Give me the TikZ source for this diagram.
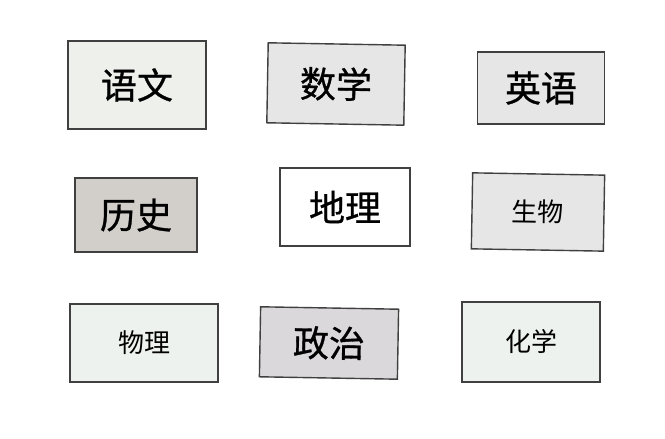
\documentclass[tikz,border=0pt]{standalone}
\usepackage{fontspec}
\newfontfamily\cjk{Noto Sans CJK SC}
\newfontfamily\cjkthick[FakeBold=0.8]{Noto Sans CJK SC}
\usepackage{tikz}
\usetikzlibrary{positioning}
\definecolor{paleA}{HTML}{EEF0EC}
\definecolor{paleB}{HTML}{E6E6E6}
\definecolor{midgray}{HTML}{D2CFCA}
\definecolor{greyC}{HTML}{DAD8DA}
\definecolor{paleD}{HTML}{EEF2EE}
\begin{document}
\begin{tikzpicture}[x=1pt,y=1pt]
\tikzset{big/.style={font=\cjkthick\fontsize{36}{36}\selectfont}}
\tikzset{small/.style={font=\cjk\fontsize{26}{26}\selectfont}}
\tikzstyle{card} =[rectangle, draw = black!75, line width=1.4pt, inner sep=0pt]

\useasboundingbox (0,0) rectangle (665,439);

\node[card,big,fill=paleA,minimum width=138,minimum height=88](yuwen) at (137,354){语文};
\node[card,big,fill=paleB,minimum width=137,minimum height=80,rotate=-1](shuxue) at (336,355){数学};
\node[card,big,fill=paleB,minimum width=127,minimum height=72](yingyu) at (541,351){英语};

\node[card,big,fill=midgray,minimum width=122,minimum height=74](lishi) at (136,224){历史};
\node[card,big,fill=white,minimum width=130,minimum height=78](dili) at (345,232){地理};
\node[card,small,fill=paleB,minimum width=132,minimum height=76,rotate=-1](shengwu) at (538,227){生物};

\node[card,small,fill=paleD,minimum width=148,minimum height=78](wuli) at (144,96){物理};
\node[card,big,fill=greyC,minimum width=138,minimum height=70,rotate=-1](zhengzhi) at (329,96){政治};
\node[card,small,fill=paleD,minimum width=138,minimum height=80](huaxue) at (531,97){化学};
\end{tikzpicture}
\end{document}
